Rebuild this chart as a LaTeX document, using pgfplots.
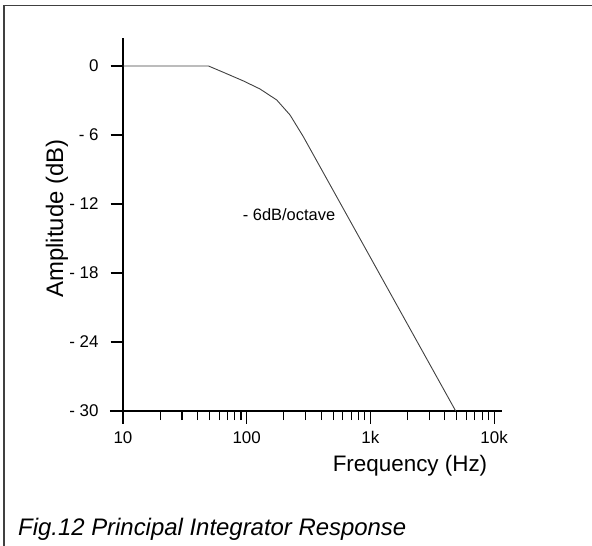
\documentclass[border=0pt]{standalone}
\usepackage{pgfplots}
\pgfplotsset{compat=1.18}
\usepackage{fontspec}
\setmainfont{Liberation Sans}
\begin{document}
\begin{tikzpicture}
\useasboundingbox (0,0) rectangle (592bp,-546bp);
\draw[line width=1.4bp, black!75] (4bp,-546bp) -- (4bp,-5.5bp) -- (592bp,-5.5bp);
\begin{axis}[
  at={(123bp,-411bp)}, anchor=south west,
  scale only axis, width=379bp, height=373bp,
  xmode=log, xmin=10, xmax=11590, ymin=-30, ymax=2.43,
  axis x line=bottom, axis y line=left,
  axis line style={-, line width=1.2bp, black},
  tick style={line width=1.1bp, black},
  tick align=outside,
  major tick length=12.5bp, minor tick length=9bp,
  xtick={10,100,1000,10000}, xticklabels={10,100,1k,10k},
  ytick={-30,-24,-18,-12,-6,0}, yticklabels={- 30,- 24,- 18,- 12,- 6,0},
  minor ytick={},
  ticklabel style={font=\fontsize{17}{20}\selectfont},
  yticklabel style={xshift=-8.5bp},
  xticklabel style={yshift=-4.5bp},
  clip=false,
]
\addplot[line width=0.9bp, black!75] coordinates {
 (10,0) (49,0) (64.7,-0.55) (93.9,-1.30) (128,-2.0) (175,-2.96) (224,-4.26) (287,-6.15) (4894,-30)
};
\draw[line width=1.2bp] (axis cs:7.85,-30) -- (axis cs:10,-30);
\node[font=\fontsize{16.5}{19}\selectfont] at (axis cs:220,-12.9) {- 6dB/octave};
\end{axis}
\node[anchor=base, font=\fontsize{22.5}{26}\selectfont] at (410bp,-471.5bp) {Frequency (Hz)};
\node[anchor=base, rotate=90, font=\fontsize{24}{28}\selectfont] at (63bp,-218.5bp) {Amplitude (dB)};
\node[anchor=base west, inner sep=0pt, font=\fontsize{24}{28}\selectfont\itshape] at (18bp,-535bp) {Fig.12 Principal Integrator Response};
\end{tikzpicture}
\end{document}
